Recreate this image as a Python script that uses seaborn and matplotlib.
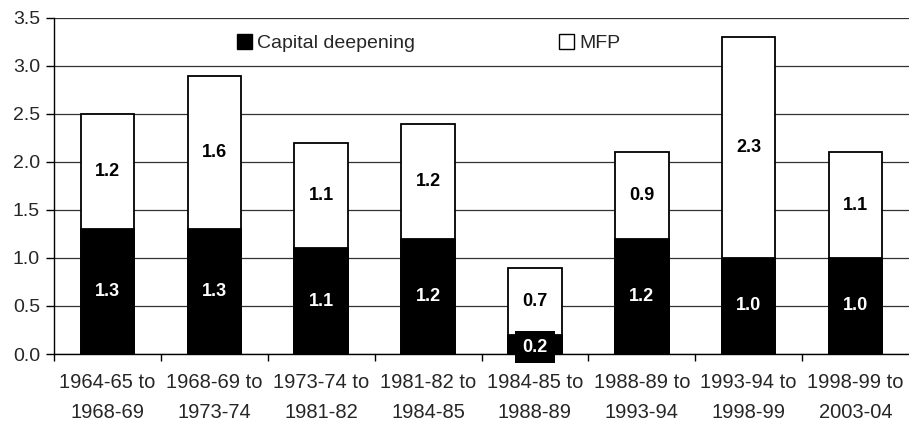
import matplotlib
matplotlib.use("Agg")
import matplotlib.pyplot as plt
import seaborn as sns
import pandas as pd
import numpy as np
from matplotlib.patches import Patch

periods = ["1964-65 to\n1968-69", "1968-69 to\n1973-74", "1973-74 to\n1981-82",
           "1981-82 to\n1984-85", "1984-85 to\n1988-89", "1988-89 to\n1993-94",
           "1993-94 to\n1998-99", "1998-99 to\n2003-04"]
capital = [1.3, 1.3, 1.1, 1.2, 0.2, 1.2, 1.0, 1.0]
mfp = [1.2, 1.6, 1.1, 1.2, 0.7, 0.9, 2.3, 1.1]

sns.set_theme(style="white")
plt.rcParams['font.family'] = ['Liberation Sans', 'DejaVu Sans']

df = pd.DataFrame({"period": periods, "capital": capital, "mfp": mfp})
df["total"] = df["capital"] + df["mfp"]

fig = plt.figure(figsize=(9.09, 4.23), dpi=100)
ax = fig.add_axes([54/909, 69/423, 1 - 54/909, (354-18)/423])

sns.barplot(data=df, x="period", y="total", color="white", edgecolor="black",
            linewidth=1.3, width=0.5, ax=ax, zorder=3, saturation=1)
sns.barplot(data=df, x="period", y="capital", color="black", edgecolor="black",
            linewidth=1.3, width=0.5, ax=ax, zorder=4, saturation=1)

for i, (c, m) in enumerate(zip(capital, mfp)):
    if c < 0.5:
        ax.text(i, c / 2 - 0.03, f"{c:.1f}", ha="center", va="center", color="white",
                fontsize=13, fontweight="bold", zorder=6,
                bbox=dict(facecolor="black", edgecolor="none", boxstyle="square,pad=0.42"))
    else:
        ax.text(i, c / 2, f"{c:.1f}", ha="center", va="center", color="white",
                fontsize=13, fontweight="bold", zorder=6)
    ax.text(i, c + m / 2, f"{m:.1f}", ha="center", va="center", color="black",
            fontsize=13, fontweight="bold", zorder=6)

ax.set_xlim(-0.5, 7.5)
ax.set_ylim(0, 3.5)
yt = np.arange(0, 3.51, 0.5)
ax.set_yticks(yt)
ax.set_yticklabels([f"{v:.1f}" for v in yt], fontsize=14)
ax.yaxis.grid(True, color="#333333", linewidth=0.9, zorder=0)
ax.set_axisbelow(True)
ax.set_xlabel("")
ax.set_ylabel("")

ax.set_xticks(range(len(periods)))
ax.set_xticklabels(periods, fontsize=14.5, linespacing=1.7)
ax.set_xticks(np.arange(-0.5, 7.5, 1), minor=True)
ax.tick_params(axis="x", which="major", length=0, pad=14)
ax.tick_params(axis="x", which="minor", length=5, width=1, color="black", direction="out", bottom=True)
ax.tick_params(axis="y", length=6, width=1, color="black", direction="out", left=True, pad=4)

for s in ["top", "right"]:
    ax.spines[s].set_visible(False)
for s in ["left", "bottom"]:
    ax.spines[s].set_color("black")
    ax.spines[s].set_linewidth(1)
    ax.spines[s].set_zorder(7)

handles = [Patch(facecolor="black", edgecolor="black", label="Capital deepening"),
           Patch(facecolor="white", edgecolor="black", label="MFP")]
leg = fig.legend(handles=handles, ncol=2, loc="center left",
                 bbox_to_anchor=(237/909, 1 - 43/423), bbox_transform=fig.transFigure,
                 frameon=False, fontsize=14, handlelength=0.78, handleheight=0.78,
                 handletextpad=0.26, columnspacing=7.4, borderpad=0, borderaxespad=0)

fig.savefig("out.png", dpi=100)
